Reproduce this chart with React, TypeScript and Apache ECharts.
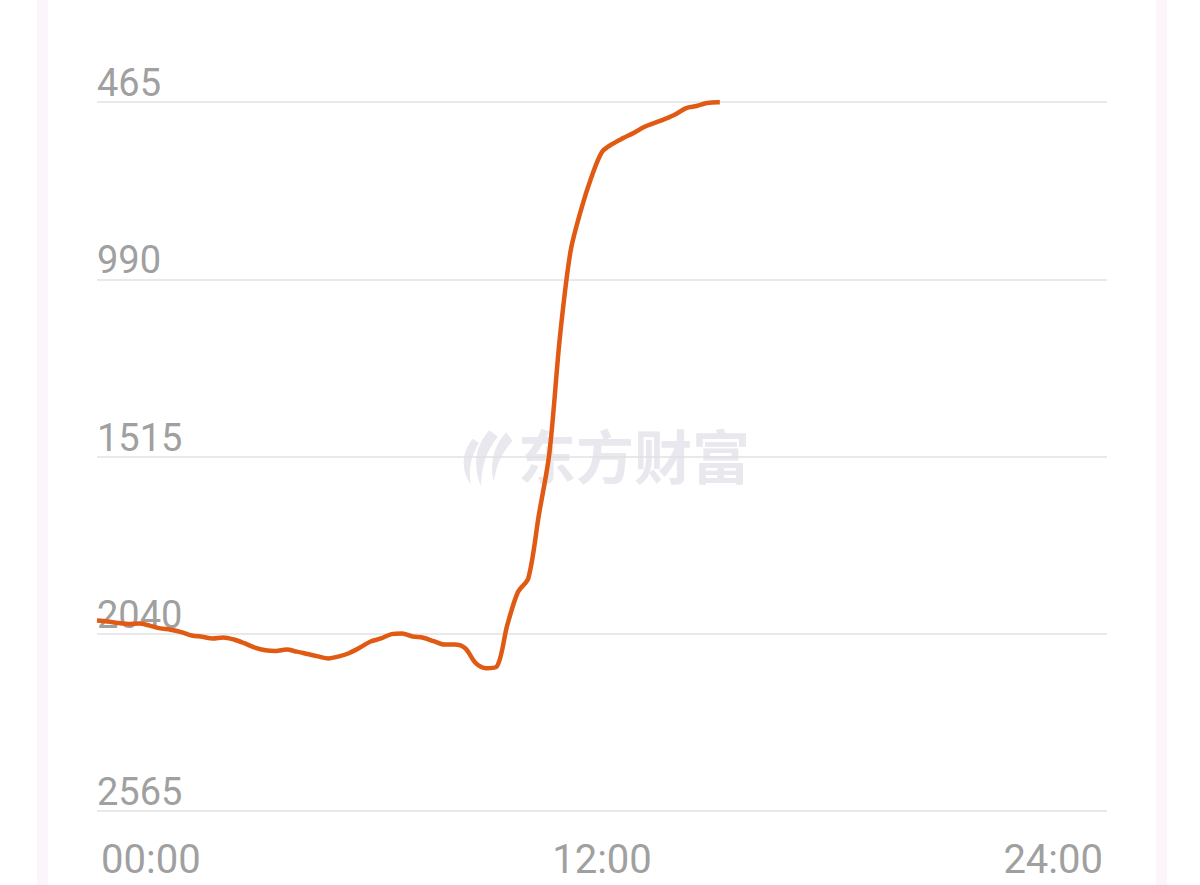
import React, { useEffect, useRef } from "react";
import * as echarts from "echarts";

const times: string[] = [
  "00:00", "00:15", "00:30", "00:45", "01:00", "01:15", "01:30", "01:45",
  "02:00", "02:15", "02:30", "02:45", "03:00", "03:15", "03:30", "03:45",
  "04:00", "04:15", "04:30", "04:45", "05:00", "05:15", "05:30", "05:45",
  "06:00", "06:15", "06:30", "06:45", "07:00", "07:15", "07:30", "07:45",
  "08:00", "08:15", "08:30", "08:45", "09:00", "09:15", "09:30", "09:45",
  "10:00", "10:15", "10:30", "10:45", "11:00", "11:15", "11:30", "11:45",
  "12:00", "12:15", "12:30", "12:45", "13:00", "13:15", "13:30", "13:45",
  "14:00", "14:15", "14:30", "14:45", "14:48",
];

const ranks: number[] = [
  2001, 2004, 2008, 2011, 2010, 2016, 2024, 2028,
  2035, 2045, 2049, 2054, 2051, 2057, 2068, 2081,
  2089, 2091, 2087, 2093, 2100, 2107, 2113, 2107,
  2097, 2081, 2063, 2054, 2041, 2039, 2048, 2052,
  2062, 2072, 2072, 2083, 2127, 2142, 2137, 2014,
  1917, 1875, 1688, 1505, 1161, 909, 785, 687,
  613, 589, 572, 557, 539, 527, 515, 501,
  483, 477, 468, 466, 466,
];

const rankTicks: number[] = [465, 990, 1515, 2040, 2565];
const timeTicks: string[] = ["00:00", "12:00", "24:00"];

const toMinutes = (s: string) => {
  const [h, m] = s.split(":").map(Number);
  return h * 60 + m;
};

const RANK_TOP = rankTicks[0];
const RANK_STEP = rankTicks[1] - rankTicks[0];
const RANK_SPAN = rankTicks[rankTicks.length - 1] - rankTicks[0];

echarts.graphic.registerShape(
  "emLogo",
  echarts.graphic.extendPath(
    "M14 10 C4 22 2 38 12 52 C10 40 12 26 20 14 Z M30 2 C16 16 14 36 22 54 C22 38 26 22 38 8 Z M46 4 C34 16 30 34 34 50 C36 36 42 22 52 12 Z",
    {}
  )
);

export default function App() {
  const ref = useRef<HTMLDivElement>(null);
  useEffect(() => {
    document.body.style.margin = "0";
    if (!ref.current) return;
    const chart = echarts.init(ref.current, null, { renderer: "svg" });
    const data = times.map((t, i) => [toMinutes(t), ranks[i] - RANK_TOP]);
    chart.setOption({
      animation: false,
      backgroundColor: "#ffffff",
      grid: { left: 97, right: 93, top: 102, bottom: 74, containLabel: false },
      graphic: [
        { type: "rect", left: 37, top: 0, shape: { width: 11, height: 885 }, style: { fill: "#fdf5fc" }, z: -10 },
        { type: "rect", left: 1156, top: 0, shape: { width: 11, height: 885 }, style: { fill: "#fdf5fc" }, z: -10 },
        {
          type: "emLogo",
          x: 458,
          y: 428,
          scaleX: 1.05,
          scaleY: 1.08,
          style: { fill: "#e8e8ee" },
          z: -5,
        },
        {
          type: "text",
          left: 518,
          top: 425,
          style: {
            text: "东方财富",
            fill: "#e8e8ee",
            font: "bold 58px 'Noto Sans CJK SC'",
          },
          z: -5,
        },
      ],
      xAxis: {
        type: "value",
        min: 0,
        max: toMinutes("24:00"),
        interval: 720,
        axisLine: { show: false },
        axisTick: { show: false },
        splitLine: { show: false },
        axisLabel: {
          color: "#a0a0a0",
          fontSize: 40,
          fontFamily: "Roboto",
          margin: 28,
          padding: [0, 4, 0, 4],
          alignMinLabel: "left",
          alignMaxLabel: "right",
          formatter: (v: number) => {
            const idx = Math.round(v / 720);
            return timeTicks[idx] ?? "";
          },
        },
      },
      yAxis: {
        type: "value",
        inverse: true,
        min: 0,
        max: RANK_SPAN,
        interval: RANK_STEP,
        axisLine: { show: false },
        axisTick: { show: false },
        splitLine: { show: true, lineStyle: { color: "#e2e2e2", width: 1.5 } },
        axisLabel: {
          inside: true,
          margin: 0,
          color: "#a0a0a0",
          fontSize: 38,
          fontFamily: "Roboto",
          align: "left",
          verticalAlign: "bottom",
          lineHeight: 38,
          padding: [0, 0, 0, 0],
          formatter: (v: number) => String(v + RANK_TOP),
        },
      },
      series: [
        {
          type: "line",
          data,
          smooth: 0.3,
          showSymbol: false,
          lineStyle: { color: "#e05a14", width: 4.5 },
          z: 5,
        },
      ],
    });
    return () => chart.dispose();
  }, []);
  return <div ref={ref} style={{ width: 1200, height: 885 }} />;
}
